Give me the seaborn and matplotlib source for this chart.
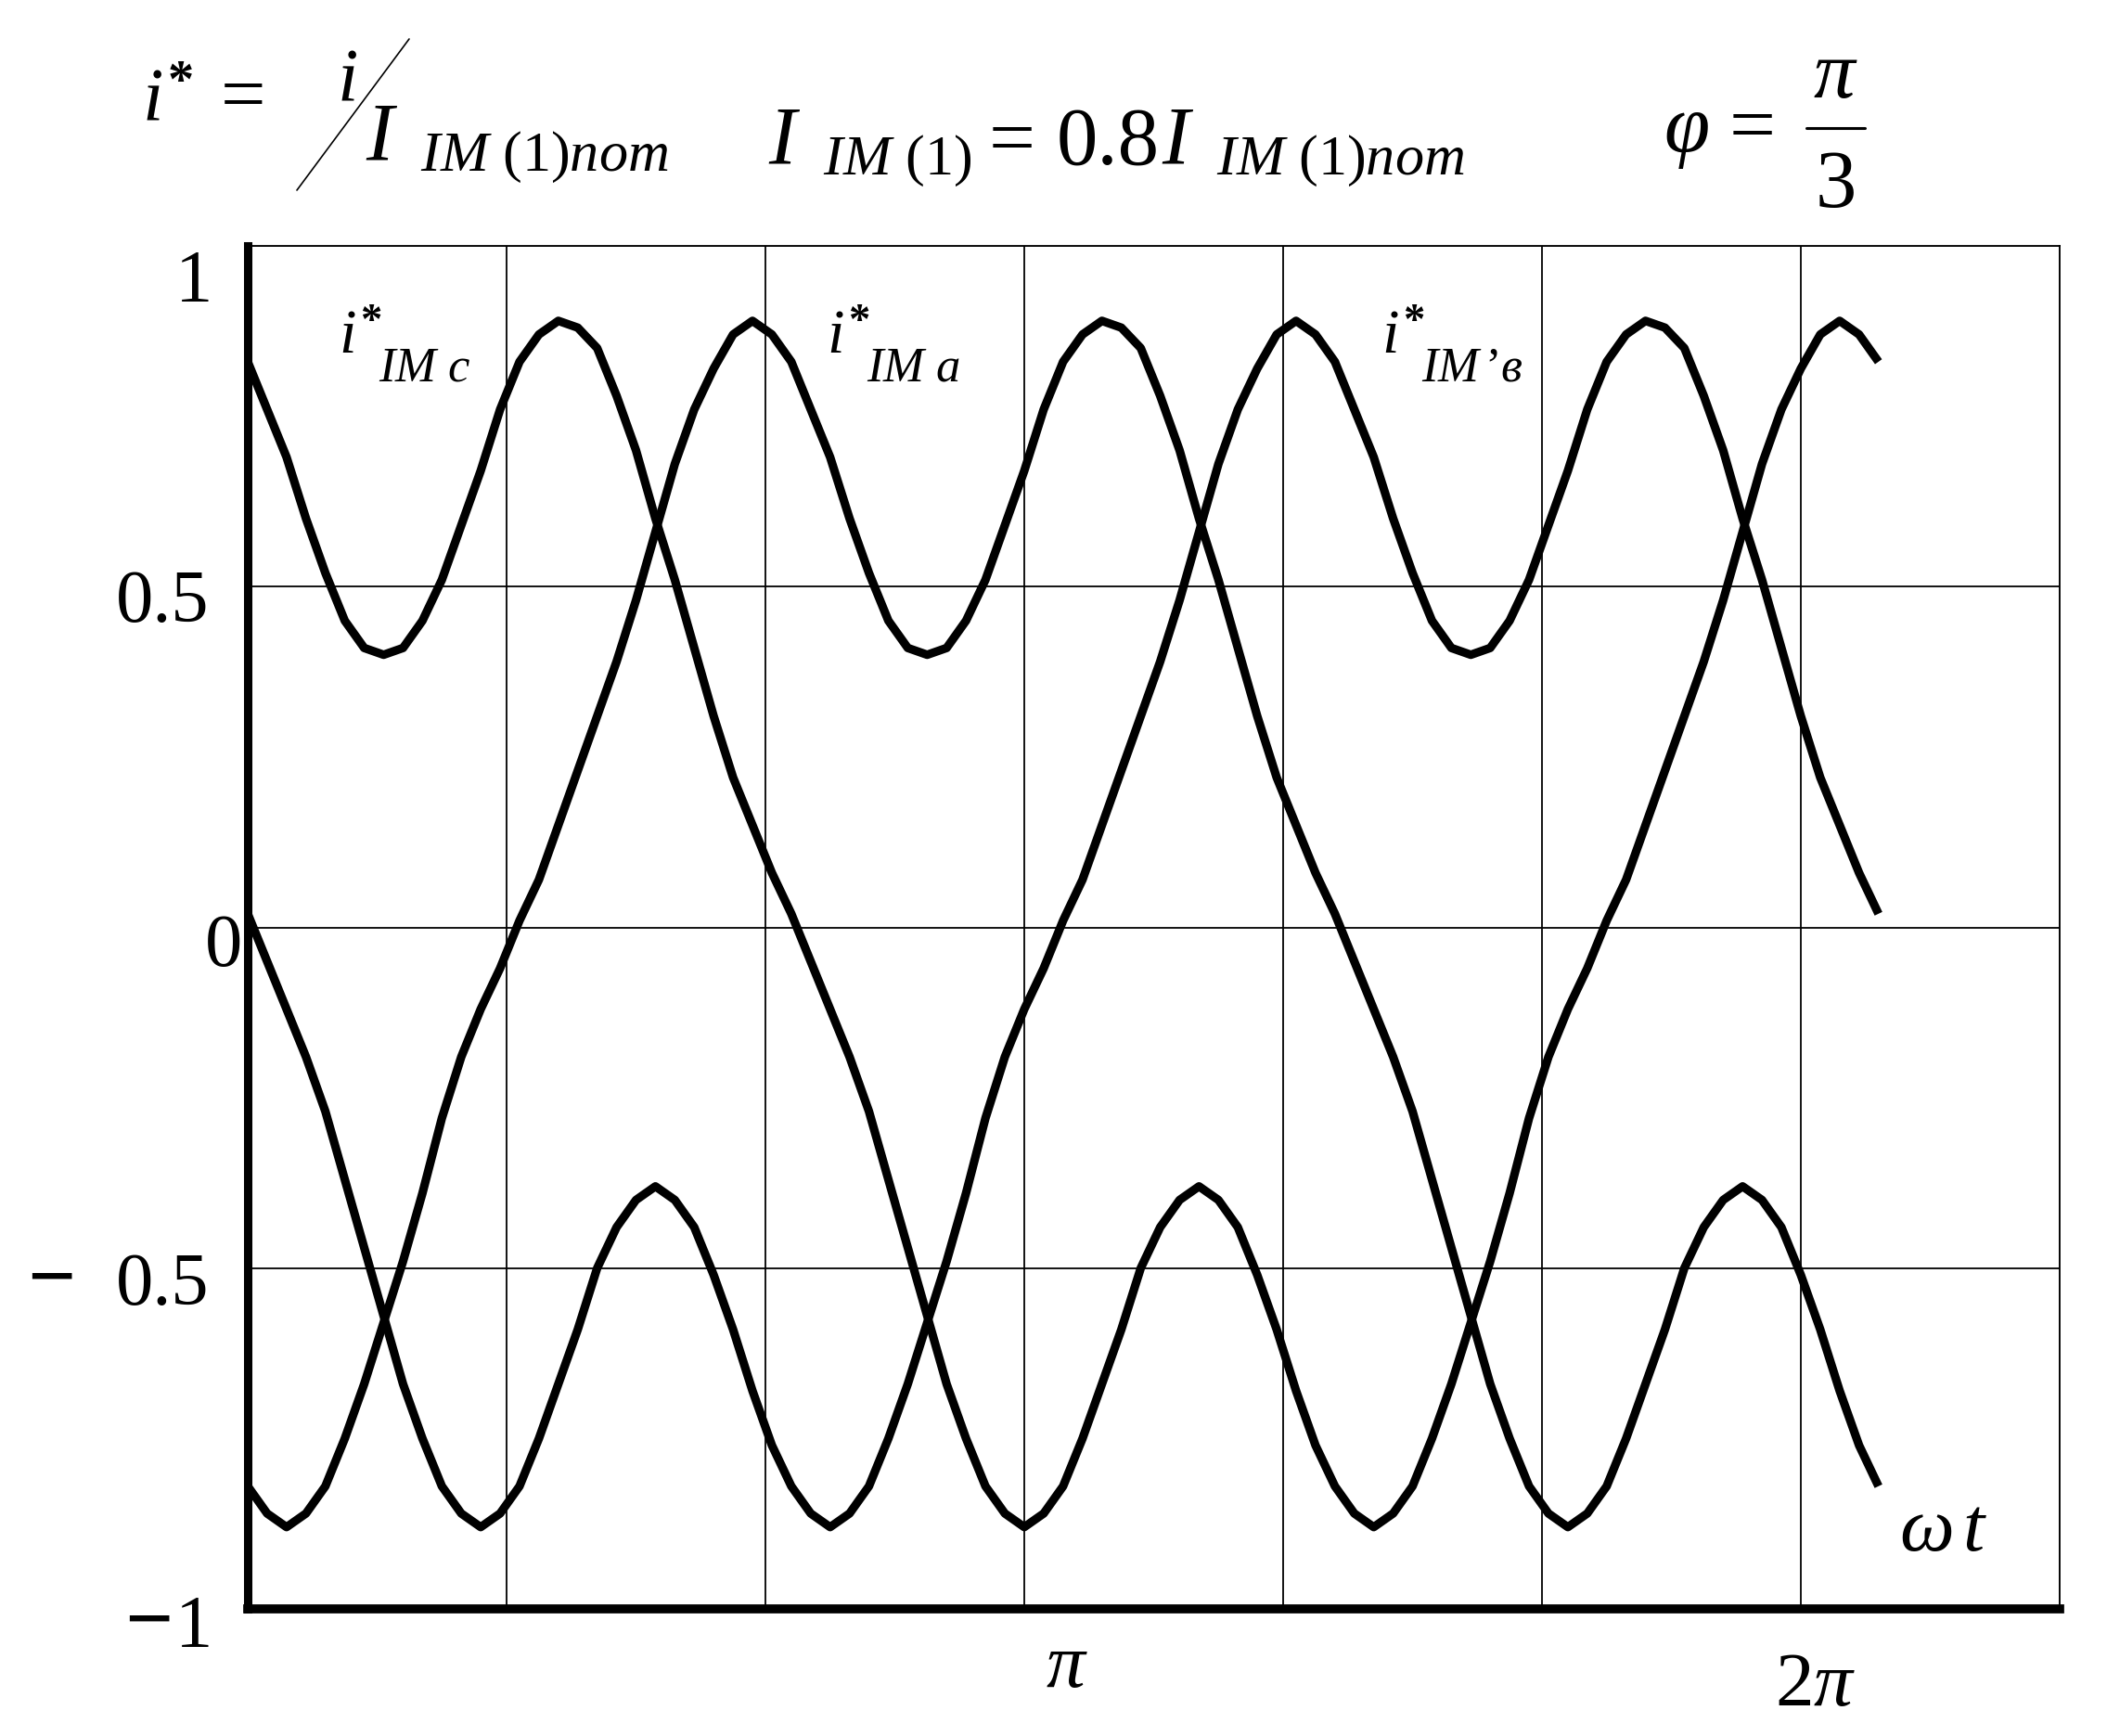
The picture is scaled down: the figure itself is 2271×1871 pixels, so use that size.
import pandas as pd
import seaborn as sns
import matplotlib.pyplot as plt
import matplotlib.transforms as mtransforms
from matplotlib.lines import Line2D

# omega*t in units of pi, one period of the phase currents
wt = [0.0, 0.025, 0.05, 0.075, 0.1, 0.125, 0.15, 0.175, 0.2, 0.225,
      0.25, 0.275, 0.3, 0.325, 0.35, 0.375, 0.4, 0.425, 0.45, 0.475,
      0.5, 0.525, 0.55, 0.575, 0.6, 0.625, 0.65, 0.675, 0.7, 0.725,
      0.75, 0.775, 0.8, 0.825, 0.85, 0.875, 0.9, 0.925, 0.95, 0.975,
      1.0, 1.025, 1.05, 1.075, 1.1, 1.125, 1.15, 1.175, 1.2, 1.225,
      1.25, 1.275, 1.3, 1.325, 1.35, 1.375, 1.4, 1.425, 1.45, 1.475,
      1.5, 1.525, 1.55, 1.575, 1.6, 1.625, 1.65, 1.675, 1.7, 1.725,
      1.75, 1.775, 1.8, 1.825, 1.85, 1.875, 1.9, 1.925, 1.95, 1.975,
      2.0, 2.025, 2.05, 2.075, 2.1]

i_c = [0.83, 0.76, 0.69, 0.60, 0.52, 0.45, 0.41, 0.40, 0.41, 0.45,
       0.51, 0.59, 0.67, 0.76, 0.83, 0.87, 0.89, 0.88, 0.85, 0.78,
       0.70, 0.60, 0.51, 0.41, 0.31, 0.22, 0.15, 0.08, 0.02, -0.05,
       -0.12, -0.19, -0.27, -0.37, -0.47, -0.57, -0.67, -0.75, -0.82, -0.86,
       -0.88, -0.86, -0.82, -0.75, -0.67, -0.59, -0.50, -0.44, -0.40, -0.38,
       -0.40, -0.44, -0.51, -0.59, -0.68, -0.76, -0.82, -0.86, -0.88, -0.86,
       -0.82, -0.75, -0.67, -0.58, -0.49, -0.39, -0.28, -0.19, -0.12, -0.06,
       0.01, 0.07, 0.15, 0.23, 0.31, 0.39, 0.48, 0.58, 0.68, 0.76,
       0.82, 0.87, 0.89, 0.87, 0.83]

i_a = [-0.82, -0.86, -0.88, -0.86, -0.82, -0.75, -0.67, -0.58, -0.49, -0.39,
       -0.28, -0.19, -0.12, -0.06, 0.01, 0.07, 0.15, 0.23, 0.31, 0.39,
       0.48, 0.58, 0.68, 0.76, 0.82, 0.87, 0.89, 0.87, 0.83, 0.76,
       0.69, 0.60, 0.52, 0.45, 0.41, 0.40, 0.41, 0.45, 0.51, 0.59,
       0.67, 0.76, 0.83, 0.87, 0.89, 0.88, 0.85, 0.78, 0.70, 0.60,
       0.51, 0.41, 0.31, 0.22, 0.15, 0.08, 0.02, -0.05, -0.12, -0.19,
       -0.27, -0.37, -0.47, -0.57, -0.67, -0.75, -0.82, -0.86, -0.88, -0.86,
       -0.82, -0.75, -0.67, -0.59, -0.50, -0.44, -0.40, -0.38, -0.40, -0.44,
       -0.51, -0.59, -0.68, -0.76, -0.82]

i_v = [0.02, -0.05, -0.12, -0.19, -0.27, -0.37, -0.47, -0.57, -0.67, -0.75,
       -0.82, -0.86, -0.88, -0.86, -0.82, -0.75, -0.67, -0.59, -0.50, -0.44,
       -0.40, -0.38, -0.40, -0.44, -0.51, -0.59, -0.68, -0.76, -0.82, -0.86,
       -0.88, -0.86, -0.82, -0.75, -0.67, -0.58, -0.49, -0.39, -0.28, -0.19,
       -0.12, -0.06, 0.01, 0.07, 0.15, 0.23, 0.31, 0.39, 0.48, 0.58,
       0.68, 0.76, 0.82, 0.87, 0.89, 0.87, 0.83, 0.76, 0.69, 0.60,
       0.52, 0.45, 0.41, 0.40, 0.41, 0.45, 0.51, 0.59, 0.67, 0.76,
       0.83, 0.87, 0.89, 0.88, 0.85, 0.78, 0.70, 0.60, 0.51, 0.41,
       0.31, 0.22, 0.15, 0.08, 0.02]

phases = ['c', 'a', 'в']
curve_subs = [r'$IM\ c$', r'$IM\ a$', r'$IM\,’\mathit{в}$']
ytick_vals = [1, 0.5, 0, -0.5, -1]
ytick_text = ['1', '0.5', '0', '0.5', '1']
ytick_minus = [False, False, False, True, True]
xtick_vals = [1, 2]
xtick_text = [r'$\pi$', r'$2\pi$']

sns.set_style('white')
plt.rcParams['font.family'] = ['Liberation Serif', 'DejaVu Serif']
plt.rcParams['text.color'] = 'black'
plt.rcParams['mathtext.fontset'] = 'custom'
plt.rcParams['mathtext.rm'] = 'Liberation Serif'
plt.rcParams['mathtext.it'] = 'Liberation Serif:italic'
plt.rcParams['mathtext.bf'] = 'Liberation Serif:bold'

W, H = 2271, 1871
fig = plt.figure(figsize=(W / 100, H / 100), dpi=100)
ax = fig.add_axes([267 / W, 1 - 1734 / H, (2220 - 267) / W, (1734 - 265) / H])

df = pd.DataFrame({'wt': wt * 3,
                   'i': i_c + i_a + i_v,
                   'phase': [p for p in phases for _ in wt]})
sns.lineplot(data=df, x='wt', y='i', units='phase', estimator=None,
             color='black', linewidth=6.6, solid_joinstyle='round',
             solid_capstyle='butt', ax=ax)

ax.set_xlim(0, 7 / 3)
ax.set_ylim(-1, 1)
ax.set_xticks([k / 3 for k in range(1, 8)])
ax.set_yticks([-0.5, 0, 0.5, 1])
ax.tick_params(length=0, labelbottom=False, labelleft=False)
ax.grid(True, color='black', linewidth=1.3)
ax.set_xlabel('')
ax.set_ylabel('')
for side, lw in [('top', 1.3), ('right', 1.3), ('left', 6.5), ('bottom', 7)]:
    ax.spines[side].set_color('black')
    ax.spines[side].set_linewidth(lw)

# tick labels placed like the original (uneven offsets)
ytr = mtransforms.blended_transform_factory(ax.transAxes, ax.transData)
for v, t, neg, dx, dy, mx in zip(ytick_vals, ytick_text, ytick_minus,
                                 [-38, -42, -6, -42, -38], [-60, -38, -41, -39, -41],
                                 [0, 0, 0, -238, -133]):
    tr = mtransforms.offset_copy(ytr, fig=fig, x=dx, y=dy, units='dots')
    ax.text(0, v, t, transform=tr, ha='right', va='baseline', fontsize=58)
    if neg:
        tr = mtransforms.offset_copy(ytr, fig=fig, x=mx, y=dy, units='dots')
        ax.text(0, v, '\u2212', transform=tr, ha='left', va='baseline',
                fontsize=66, fontweight='bold')

xtr = mtransforms.blended_transform_factory(ax.transData, ax.transAxes)
for v, t, dx, dy in zip(xtick_vals, xtick_text, [46, 16], [-84, -104]):
    tr = mtransforms.offset_copy(xtr, fig=fig, x=dx, y=dy, units='dots')
    ax.text(v, 0, t, transform=tr, ha='center', va='baseline', fontsize=60)

ax.text(2.127, -0.914, r'$\omega\,t$', ha='left', va='baseline', fontsize=60)

for xpos, sub in zip([0.117, 0.746, 1.460], curve_subs):
    ax.text(xpos, 0.842, r'$i^{\mathbf{*}}$', ha='left', va='baseline', fontsize=48)
    tr = mtransforms.offset_copy(ax.transData, fig=fig, x=43, y=-29, units='dots')
    ax.text(xpos, 0.842, sub, transform=tr, ha='left', va='baseline', fontsize=38)

# formulas above the plot
def ftxt(x, y, s, size, ha='left'):
    fig.text(x / W, 1 - y / H, s, ha=ha, va='baseline', fontsize=size)

def fline(x0, y0, x1, y1, lw):
    fig.add_artist(Line2D([x0 / W, x1 / W], [1 - y0 / H, 1 - y1 / H],
                          transform=fig.transFigure, color='black', linewidth=lw))

ftxt(153, 130, r'$i^{\mathbf{*}}$', 58)
ftxt(238, 130, '=', 62)
ftxt(363, 107, r'$i$', 58)
ftxt(394, 173, r'$I_{\ \ IM\,\,(1)nom}$', 64)
fline(320, 205, 441, 42, 1.2)

ftxt(828, 177, r'$I_{\ \ IM\,\,(1)}$', 64)
ftxt(1066, 177, '=', 64)
ftxt(1139, 177, '0.8', 64)
ftxt(1252, 177, r'$I_{\ \ IM\,\,(1)nom}$', 64)

ftxt(1793, 163, r'$\varphi$', 64)
ftxt(1864, 163, '=', 64)
ftxt(1978, 105, r'$\pi$', 64, ha='center')
fline(1947, 138, 2010, 138, 2.2)
ftxt(1979, 223, '3', 64, ha='center')

fig.savefig('out.png', dpi=100, facecolor='white')
